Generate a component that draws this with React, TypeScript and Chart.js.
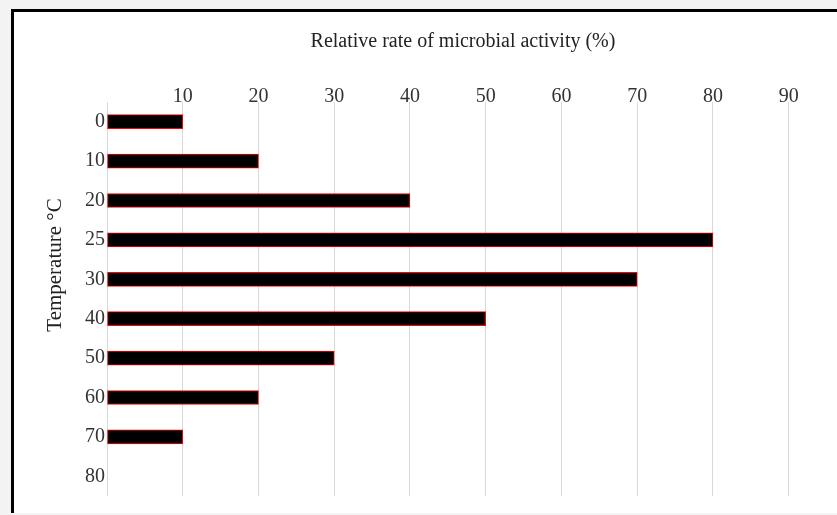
import { useEffect, useRef } from 'react';
import { Chart, registerables } from 'chart.js';

Chart.register(...registerables);

const temperatures = ['0', '10', '20', '25', '30', '40', '50', '60', '70', '80'];
const activity: (number | null)[] = [10, 20, 40, 80, 70, 50, 30, 20, 10, null];
const xMin = 0;
const xMax = 94;
const xStep = 10;
const xTitle = 'Relative rate of microbial activity (%)';
const yTitle = 'Temperature °C';

const FONT = '"Liberation Serif", "Times New Roman", serif';

export default function App() {
  const ref = useRef<HTMLCanvasElement>(null);

  useEffect(() => {
    document.body.style.margin = '0';
    const yTitlePlugin = {
      id: 'yTitle',
      afterDraw(chart: any) {
        const ctx = chart.ctx;
        ctx.save();
        ctx.translate(41, 253);
        ctx.rotate(-Math.PI / 2);
        ctx.textAlign = 'center';
        ctx.textBaseline = 'middle';
        ctx.fillStyle = '#222';
        ctx.font = `21px ${FONT}`;
        ctx.fillText(yTitle, 0, 0);
        ctx.restore();
      },
    };
    const chart = new Chart(ref.current!, {
      type: 'bar',
      data: {
        labels: temperatures,
        datasets: [
          {
            data: activity,
            backgroundColor: '#000000',
            borderColor: '#ff0000',
            borderWidth: 1,
            borderSkipped: false,
            barThickness: 14,
          },
        ],
      },
      options: {
        indexAxis: 'y',
        animation: false,
        responsive: false,
        layout: { padding: { left: 0, top: 0, right: 18, bottom: 17 } },
        plugins: { legend: { display: false }, tooltip: { enabled: false } },
        scales: {
          x: {
            position: 'top',
            min: xMin,
            max: xMax,
            afterFit: (s: any) => {
              s.height = 90;
            },
            ticks: {
              stepSize: xStep,
              includeBounds: false,
              autoSkip: false,
              maxRotation: 0,
              padding: -7,
              color: '#333',
              font: { family: FONT, size: 20 },
              callback: (v: any) => (v === 0 ? '' : String(v)),
            },
            grid: { color: '#d9d9d9', lineWidth: 1, drawTicks: false },
            border: { display: false },
            title: {
              display: true,
              text: xTitle,
              color: '#222',
              font: { family: FONT, size: 20 },
              padding: { top: 18, bottom: 0 },
            },
          },
          y: {
            afterFit: (s: any) => {
              s.width = 93;
            },
            ticks: {
              padding: 2,
              color: '#333',
              font: { family: FONT, size: 20 },
            },
            grid: { display: false, drawTicks: false },
            border: { display: false },
          },
        },
      },
      plugins: [yTitlePlugin],
    });
    return () => chart.destroy();
  }, []);

  return (
    <div style={{ position: 'relative', width: 837, height: 515, background: '#f3f3f3', overflow: 'hidden' }}>
      <div
        style={{
          position: 'absolute',
          left: 11,
          top: 9,
          width: 826,
          height: 504,
          boxSizing: 'border-box',
          borderLeft: '3px solid #000',
          borderTop: '3px solid #000',
          background: '#fff',
        }}
      >
        <canvas ref={ref} width={823} height={501} style={{ display: 'block' }} />
      </div>
    </div>
  );
}
